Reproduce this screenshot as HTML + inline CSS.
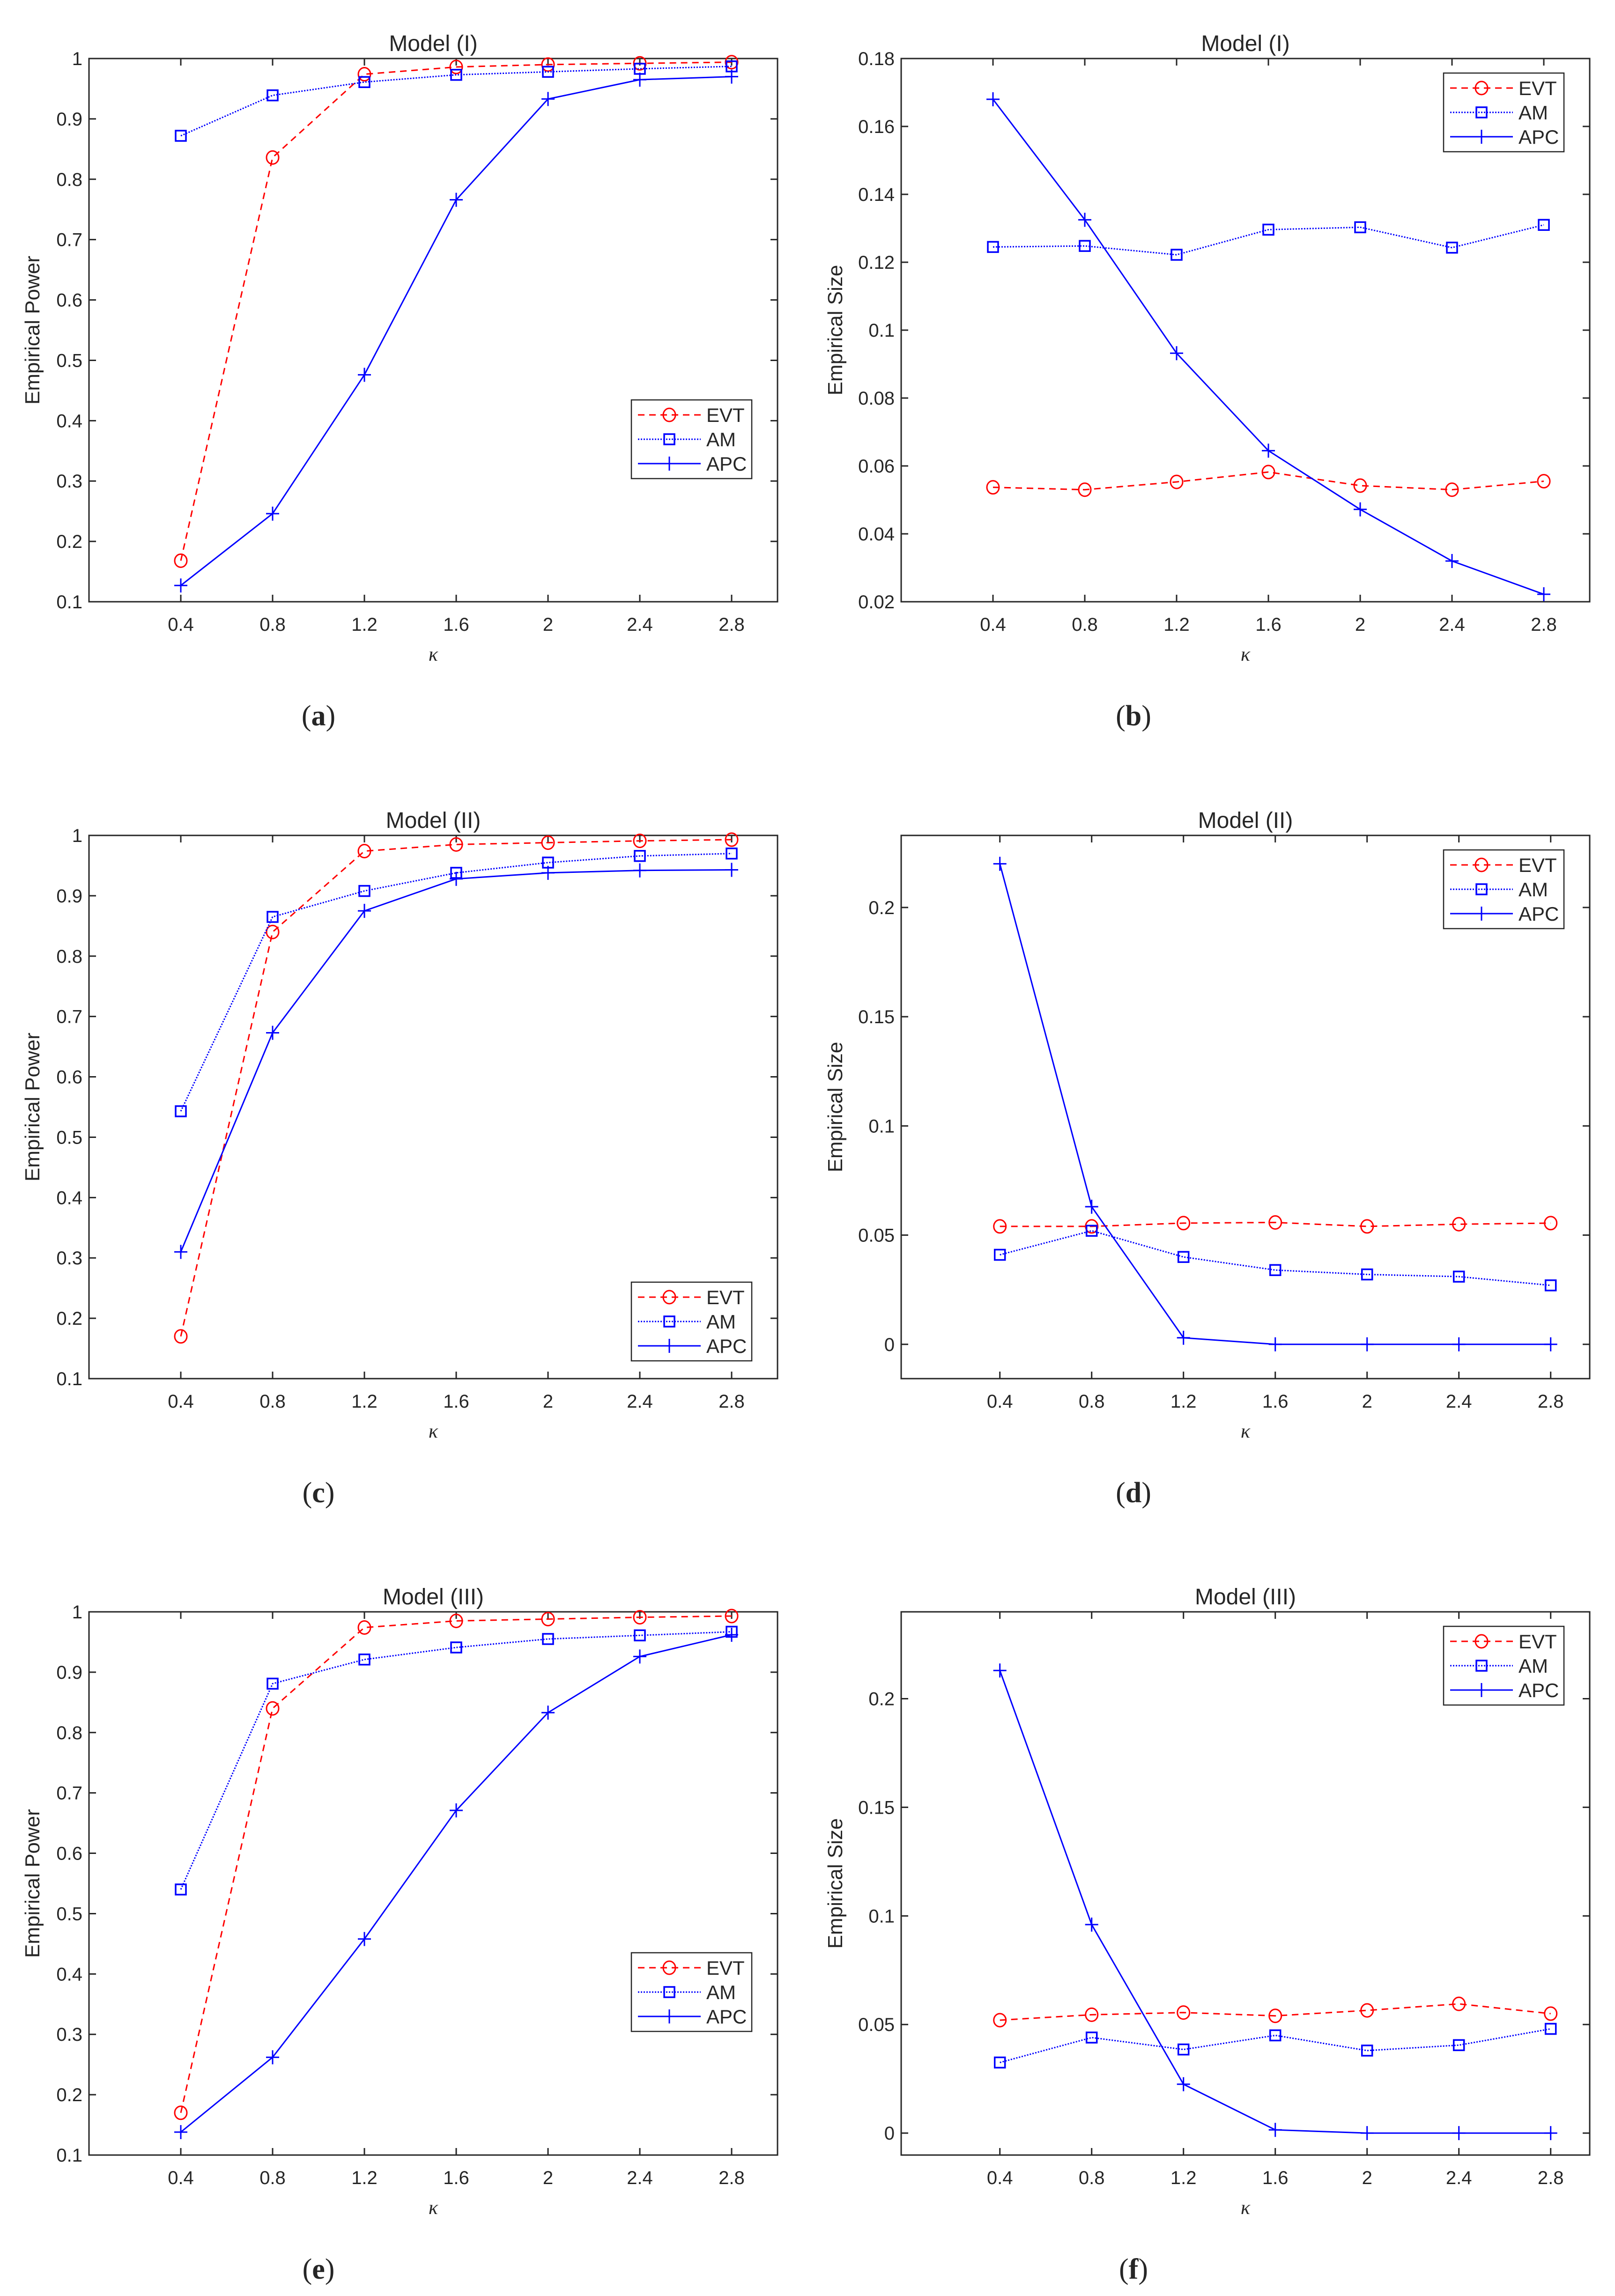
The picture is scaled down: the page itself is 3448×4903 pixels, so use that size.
<!DOCTYPE html>
<html><head><meta charset="utf-8">
<style>
html,body{margin:0;padding:0;background:#fff;}
svg{display:block;}
text{font-family:"Liberation Sans",Arial,sans-serif;fill:#262626;}
</style></head>
<body>
<svg id="fig" width="3448" height="4903" viewBox="0 0 3448 4903" xmlns="http://www.w3.org/2000/svg"></svg>
<script>
const kappa = [0.4,0.8,1.2,1.6,2.0,2.4,2.8];
const xTicks = [0.4,0.8,1.2,1.6,2,2.4,2.8];
const xTickLabels = ["0.4","0.8","1.2","1.6","2","2.4","2.8"];
const powerTicks = [0.1,0.2,0.3,0.4,0.5,0.6,0.7,0.8,0.9,1];
const powerTickLabels = ["0.1","0.2","0.3","0.4","0.5","0.6","0.7","0.8","0.9","1"];
const sizeTicksB = [0.02,0.04,0.06,0.08,0.1,0.12,0.14,0.16,0.18];
const sizeTickLabelsB = ["0.02","0.04","0.06","0.08","0.1","0.12","0.14","0.16","0.18"];
const sizeTicksDF = [0,0.05,0.1,0.15,0.2];
const sizeTickLabelsDF = ["0","0.05","0.1","0.15","0.2"];

const evtA = [0.168,0.836,0.974,0.986,0.990,0.992,0.994];
const amA  = [0.872,0.939,0.961,0.973,0.978,0.983,0.987];
const apcA = [0.127,0.246,0.476,0.766,0.933,0.965,0.970];
const evtB = [0.0537,0.0530,0.0553,0.0582,0.0542,0.0530,0.0555];
const amB  = [0.1245,0.1248,0.1222,0.1296,0.1303,0.1243,0.1310];
const apcB = [0.168,0.1325,0.0932,0.0645,0.0472,0.0320,0.0222];
const evtC = [0.170,0.840,0.974,0.985,0.988,0.991,0.993];
const amC  = [0.543,0.865,0.908,0.938,0.955,0.966,0.970];
const apcC = [0.310,0.673,0.875,0.928,0.938,0.942,0.943];
const evtD = [0.054,0.054,0.0555,0.0558,0.054,0.055,0.0555];
const amD  = [0.041,0.052,0.040,0.034,0.032,0.031,0.027];
const apcD = [0.220,0.063,0.003,0,0,0,0];
const evtE = [0.170,0.840,0.974,0.985,0.988,0.991,0.993];
const amE  = [0.540,0.881,0.921,0.941,0.955,0.961,0.967];
const apcE = [0.138,0.262,0.458,0.671,0.833,0.926,0.962];
const evtF = [0.052,0.0545,0.0555,0.054,0.0565,0.0595,0.055];
const amF  = [0.0325,0.044,0.0385,0.045,0.038,0.0405,0.048];
const apcF = [0.213,0.096,0.0225,0.0015,0,0,0];

const NS = "http://www.w3.org/2000/svg";
const svg = document.getElementById('fig');
function mk(tag, attrs, parent){
  const e = document.createElementNS(NS, tag);
  for (const k in attrs) e.setAttribute(k, attrs[k]);
  (parent||svg).appendChild(e);
  return e;
}

function marker(g, type, cx, cy){
  let m;
  if (type==='o') m = mk('ellipse',{cx:cx,cy:cy,rx:13,ry:14,fill:'none',stroke:'#ff0000','stroke-width':3},g);
  else if (type==='s') m = mk('rect',{x:cx-11,y:cy-11,width:22,height:22,fill:'none',stroke:'#0000ff','stroke-width':3.5},g);
  else {
    m = mk('path',{d:`M${cx-14},${cy}H${cx+14}M${cx},${cy-15}V${cy+15}`,stroke:'#0000ff','stroke-width':3,fill:'none'},g);
  }
  return m;
}

function panel(p){
  const g = mk('g',{});
  
  
  const L=p.x0, R=p.x1, T=p.y0, B=p.y1;
  const sx = v => L + (v - p.xmin)/(p.xmax - p.xmin)*(R-L);
  const sy = v => B - (v - p.ymin)/(p.ymax - p.ymin)*(B-T);
  const box = mk('rect',{x:L,y:T,width:R-L,height:B-T,fill:'none',stroke:'#262626','stroke-width':3},g);
  
  
  xTicks.forEach((t,i)=>{
    const x = sx(t);
    mk('path',{d:`M${x},${B}V${B-15}M${x},${T}V${T+15}`,stroke:'#262626','stroke-width':3},g);
    const tl = mk('text',{x:x,y:B+62,'font-size':40,'text-anchor':'middle'},g);
    tl.textContent = xTickLabels[i];
    
    
  });
  p.yTicks.forEach((t,i)=>{
    const y = sy(t);
    mk('path',{d:`M${L},${y}H${L+15}M${R},${y}H${R-15}`,stroke:'#262626','stroke-width':3},g);
    const tl = mk('text',{x:L-14,y:y+14,'font-size':40,'text-anchor':'end'},g);
    tl.textContent = p.yLabels[i];
    
    
  });
  const ti = mk('text',{x:(L+R)/2,y:T-16,'font-size':48,'text-anchor':'middle'},g);
  ti.textContent = p.title;
  
  
  const xl = mk('text',{x:(L+R)/2,y:B+126,'font-size':42,'text-anchor':'middle','font-style':'italic',style:'font-family:"Liberation Serif",serif'},g);
  xl.textContent = 'κ';
  
  
  const yc = (T+B)/2;
  const yl = mk('text',{x:p.ylx,y:yc,'font-size':44,'text-anchor':'middle',transform:`rotate(-90 ${p.ylx} ${yc})`},g);
  yl.textContent = p.ylabel;
  
  
  const sl = mk('text',{x:p.subx,y:B+264,'font-size':62,'text-anchor':'middle',style:'font-family:"Liberation Serif",serif'},g);
  sl.innerHTML = '(<tspan font-weight="bold">'+p.sub+'</tspan>)';
  
  
  const series = [
    {vals:p.evt, color:'#ff0000', dash:'14,10', m:'o', nm:'evt'},
    {vals:p.am, color:'#0000ff', dash:'3,3', m:'s', nm:'am'},
    {vals:p.apc, color:'#0000ff', dash:'', m:'+', nm:'apc'}
  ];
  series.forEach(s=>{
    const sg = mk('g',{},g);
    
    
    const pts = kappa.map((k,i)=>sx(k)+','+sy(s.vals[i])).join(' ');
    const attrs = {points:pts,fill:'none',stroke:s.color,'stroke-width':3};
    if (s.dash) attrs['stroke-dasharray']=s.dash;
    const pl = mk('polyline',attrs,sg);
    
    
    kappa.forEach((k,i)=>{
      const mm = marker(sg, s.m, sx(k), sy(s.vals[i]));
      
      
    });
  });
  const lg = mk('g',{},g);
  
  
  const lw=257, lh=168;
  const lx = R-55-lw, ly = p.legTop;
  mk('rect',{x:lx,y:ly,width:lw,height:lh,fill:'#fff',stroke:'#262626','stroke-width':2.5},lg);
  series.forEach((s,i)=>{
    const ry = ly+32+i*52;
    const e = mk('g',{},lg);
    
    
    const a = {x1:lx+14,x2:lx+148,y1:ry,y2:ry,stroke:s.color,'stroke-width':3};
    if (s.dash) a['stroke-dasharray']=s.dash;
    mk('line',a,e);
    marker(e, s.m, lx+81, ry);
    const t = mk('text',{x:lx+160,y:ry+15,'font-size':42,fill:'#000'},e);
    t.textContent = s.nm.toUpperCase();
  });
}

const Lx=[190,1660], Rx=[1924,3394];
const rows=[125,1784,3442], H=1160;
panel({name:'panel-a',x0:Lx[0],x1:Lx[1],y0:rows[0],y1:rows[0]+H,xmin:0,xmax:3,ymin:0.1,ymax:1,
  yTicks:powerTicks,yLabels:powerTickLabels,title:'Model (I)',ylabel:'Empirical Power',ylx:84,sub:'a',subx:680,
  evt:evtA,am:amA,apc:apcA,legTop:rows[0]+H-431});
panel({name:'panel-b',x0:Rx[0],x1:Rx[1],y0:rows[0],y1:rows[0]+H,xmin:0,xmax:3,ymin:0.02,ymax:0.18,
  yTicks:sizeTicksB,yLabels:sizeTickLabelsB,title:'Model (I)',ylabel:'Empirical Size',ylx:1798,sub:'b',subx:2420,
  evt:evtB,am:amB,apc:apcB,legTop:rows[0]+31});
panel({name:'panel-c',x0:Lx[0],x1:Lx[1],y0:rows[1],y1:rows[1]+H,xmin:0,xmax:3,ymin:0.1,ymax:1,
  yTicks:powerTicks,yLabels:powerTickLabels,title:'Model (II)',ylabel:'Empirical Power',ylx:84,sub:'c',subx:680,
  evt:evtC,am:amC,apc:apcC,legTop:rows[1]+H-206});
panel({name:'panel-d',x0:Rx[0],x1:Rx[1],y0:rows[1],y1:rows[1]+H,xmin:-0.03,xmax:2.97,ymin:-0.0157,ymax:0.233,
  yTicks:sizeTicksDF,yLabels:sizeTickLabelsDF,title:'Model (II)',ylabel:'Empirical Size',ylx:1798,sub:'d',subx:2420,
  evt:evtD,am:amD,apc:apcD,legTop:rows[1]+31});
panel({name:'panel-e',x0:Lx[0],x1:Lx[1],y0:rows[2],y1:rows[2]+H,xmin:0,xmax:3,ymin:0.1,ymax:1,
  yTicks:powerTicks,yLabels:powerTickLabels,title:'Model (III)',ylabel:'Empirical Power',ylx:84,sub:'e',subx:680,
  evt:evtE,am:amE,apc:apcE,legTop:rows[2]+H-432});
panel({name:'panel-f',x0:Rx[0],x1:Rx[1],y0:rows[2],y1:rows[2]+H,xmin:-0.03,xmax:2.97,ymin:-0.0101,ymax:0.240,
  yTicks:sizeTicksDF,yLabels:sizeTickLabelsDF,title:'Model (III)',ylabel:'Empirical Size',ylx:1798,sub:'f',subx:2420,
  evt:evtF,am:amF,apc:apcF,legTop:rows[2]+31});
</script>
</body></html>
